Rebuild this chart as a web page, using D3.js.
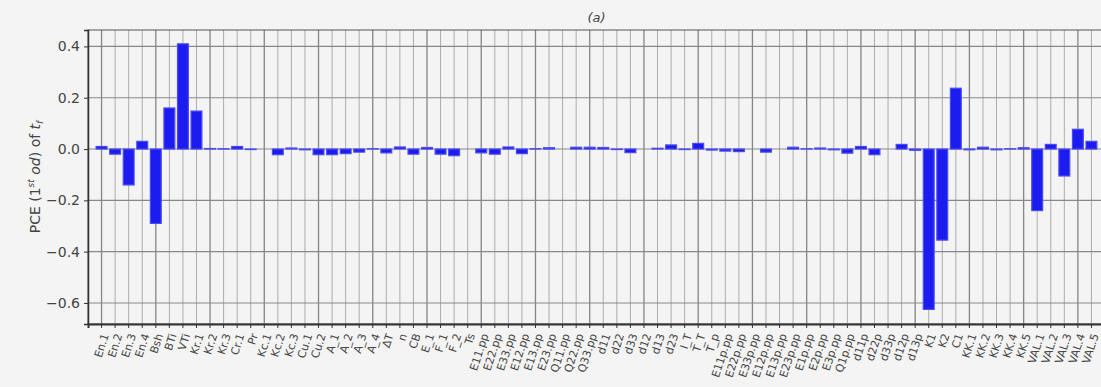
<!DOCTYPE html>
<html>
<head>
<meta charset="utf-8">
<script src="https://cdn.jsdelivr.net/npm/d3@7"></script>
<style>
  body { margin: 0; background: #f4f4f4; }
  text { font-family: "DejaVu Sans", sans-serif; }
</style>
</head>
<body>
<div id="chart"></div>
<script>
// category labels (hard to read in the source, approximated)
var categories = [
  "En.1", "En.2", "En.3", "En.4", "Bsh", "BTi", "VTi", "Kr.1", "Kr.2", "Kr.3",
  "Cr.1", "Pr", "Kc.1", "Kc.2", "Kc.3", "Cu.1", "Cu.2", "A_1", "A_2", "A_3",
  "A_4", "ΔT", "n", "CB", "E_1", "F_1", "F_2", "Ts",
  "E11.pp", "E22.pp", "E33.pp", "E12.pp", "E13.pp", "E23.pp", "Q11.pp", "Q22.pp", "Q33.pp",
  "d11", "d22", "d33", "d12", "d13", "d23", "I_T",
  "T_T", "T_p", "E11p.pp", "E22p.pp", "E33p.pp", "E12p.pp", "E13p.pp", "E23p.pp",
  "E1p.pp", "E2p.pp", "E3p.pp", "Q1p.pp",
  "d11p", "d22p", "d33p", "d12p", "d13p",
  "K1", "K2", "C1",
  "KK.1", "KK.2", "KK.3", "KK.4", "KK.5",
  "VAL.1", "VAL.2", "VAL.3", "VAL.4", "VAL.5"
];

var pce = [
  0.010, -0.020, -0.140, 0.030, -0.290, 0.160, 0.410, 0.148, 0.002, 0.001,
  0.010, -0.002, 0.000, -0.022, 0.004, -0.003, -0.022, -0.022, -0.018, -0.012,
  0.001, -0.015, 0.008, -0.020, 0.006, -0.020, -0.026, 0.000, -0.015, -0.020,
  0.008, -0.018, 0.001, 0.005, 0.000, 0.007, 0.007, 0.006, -0.002, -0.014,
  0.000, 0.003, 0.016, -0.002, 0.022, -0.004, -0.008, -0.010, 0.000, -0.012,
  0.000, 0.007, 0.001, 0.004, -0.003, -0.016, 0.010, -0.022, 0.000, 0.018,
  -0.005, -0.625, -0.355, 0.237, -0.003, 0.007, -0.003, 0.001, 0.005, -0.240,
  0.018, -0.105, 0.077, 0.030
];

var yTicks = [-0.6, -0.4, -0.2, 0.0, 0.2, 0.4];

var w = 1101;
var h = 387;
var pLeft = 88, pRight = 1105, pTop = 30, pBottom = 324;

var svg = d3.select("#chart")
            .append("svg")
            .attr("width", w)
            .attr("height", h);

svg.append("rect")
   .attr("width", w)
   .attr("height", h)
   .attr("fill", "#f4f4f4");

var x = d3.scaleBand()
          .domain(categories)
          .range([pLeft, pRight])
          .paddingInner(0.2)
          .paddingOuter(0.6);

var y = d3.scaleLinear()
          .domain([-0.682, 0.464])
          .range([pBottom, pTop]);

// vertical grid, one line per category
svg.append("g")
   .selectAll("line")
   .data(categories)
   .enter()
   .append("line")
   .attr("x1", function(d){ return x(d) + x.bandwidth()/2; })
   .attr("x2", function(d){ return x(d) + x.bandwidth()/2; })
   .attr("y1", pTop)
   .attr("y2", pBottom)
   .attr("stroke", function(d, i){ return i % 4 == 0 ? "#858585" : "#adadad"; })
   .attr("stroke-width", function(d, i){ return i % 4 == 0 ? 1.3 : 1; });

// horizontal grid
svg.append("g")
   .selectAll("line")
   .data(yTicks)
   .enter()
   .append("line")
   .attr("x1", pLeft)
   .attr("x2", pRight)
   .attr("y1", function(d){ return y(d); })
   .attr("y2", function(d){ return y(d); })
   .attr("stroke", "#888")
   .attr("stroke-width", 1.1);

// bars
svg.append("g")
   .selectAll("rect")
   .data(pce)
   .enter()
   .append("rect")
   .attr("x", function(d, i){ return x(categories[i]); })
   .attr("width", x.bandwidth())
   .attr("y", function(d){ return y(Math.max(0, d)); })
   .attr("height", function(d){ return Math.abs(y(d) - y(0)); })
   .attr("fill", "#1c1cf0")
   .attr("stroke", "#4a4af2")
   .attr("stroke-width", 1.2);

// frame
svg.append("rect")
   .attr("x", pLeft)
   .attr("y", pTop)
   .attr("width", pRight - pLeft)
   .attr("height", pBottom - pTop)
   .attr("fill", "none")
   .attr("stroke", "#555")
   .attr("stroke-width", 1);

// y axis
var yAxis = d3.axisLeft(y)
              .tickValues(yTicks)
              .tickFormat(d3.format(".1f"))
              .tickSize(4)
              .tickPadding(4);

var gy = svg.append("g")
            .attr("transform", "translate(" + pLeft + ",0)")
            .call(yAxis);
gy.select(".domain").attr("stroke", "#333").attr("stroke-width", 1.5);
gy.selectAll(".tick line").attr("stroke", "#333");
gy.selectAll("text")
  .attr("font-size", "14px")
  .attr("fill", "#444")
  .text(function(d){ return d3.format(".1f")(d).replace("-", "\u2212"); });

// x axis
var xAxis = d3.axisBottom(x)
              .tickSize(4)
              .tickPadding(2);

var gx = svg.append("g")
            .attr("transform", "translate(0," + pBottom + ")")
            .call(xAxis);
gx.select(".domain").attr("stroke", "#333").attr("stroke-width", 2);
gx.selectAll(".tick line").attr("stroke", "#333");
gx.selectAll("text")
  .attr("font-size", "11px")
  .attr("fill", "#444")
  .attr("text-anchor", "end")
  .attr("dy", "0.35em")
  .attr("transform", "translate(-2,8) rotate(-72)");

// title
svg.append("text")
   .attr("x", (pLeft + pRight) / 2)
   .attr("y", 22)
   .attr("text-anchor", "middle")
   .attr("font-size", "13px")
   .attr("font-style", "italic")
   .attr("fill", "#444")
   .text("(a)");

// y label
var yl = svg.append("text")
            .attr("transform", "translate(40," + ((pTop + pBottom) / 2) + ") rotate(-90)")
            .attr("text-anchor", "middle")
            .attr("font-size", "14px")
            .attr("fill", "#444");
yl.append("tspan").text("PCE (1");
yl.append("tspan").attr("font-size", "9px").attr("dy", "-6").attr("font-style", "italic").text("st");
yl.append("tspan").attr("dy", "6").attr("font-style", "italic").text(" od");
yl.append("tspan").text(") of ");
yl.append("tspan").attr("font-style", "italic").text("t");
yl.append("tspan").attr("font-size", "9px").attr("dy", "3").attr("font-style", "italic").text("f");
</script>
</body>
</html>
